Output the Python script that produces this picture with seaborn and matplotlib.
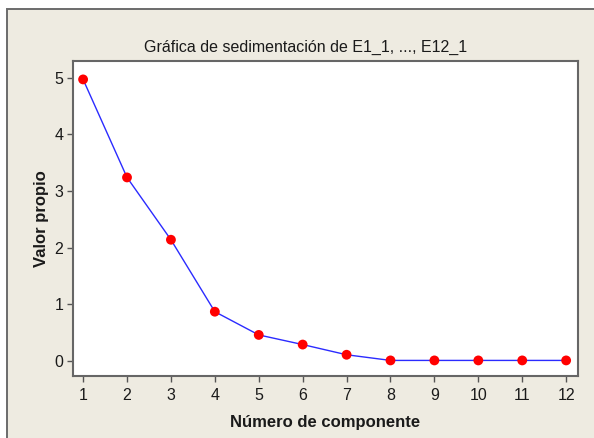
import numpy as np
import pandas as pd
import matplotlib
matplotlib.use("Agg")
import matplotlib.pyplot as plt
from matplotlib.patches import Rectangle
import seaborn as sns

# datos del gráfico de sedimentación (valores propios)
componentes = [1, 2, 3, 4, 5, 6, 7, 8, 9, 10, 11, 12]
valores_propios = [4.97, 3.24, 2.14, 0.87, 0.46, 0.29, 0.11, 0.01, 0.01, 0.01, 0.01, 0.01]
y_ticks = [0, 1, 2, 3, 4, 5]

titulo = "Gráfica de sedimentación de E1_1, ..., E12_1"
etiqueta_x = "Número de componente"
etiqueta_y = "Valor propio"

df = pd.DataFrame({"componente": componentes, "valor": valores_propios})

sns.set_style("white")
plt.rcParams["font.family"] = ["Liberation Sans", "DejaVu Sans"]

fondo = "#EEEBE1"
fig = plt.figure(figsize=(5.94, 4.38), dpi=100)
fig.patch.set_facecolor("white")

# panel beige con borde gris (estilo Minitab)
panel = Rectangle((7 / 594, -0.05), 1.2, 1 - 8.5 / 438 + 0.05, transform=fig.transFigure,
                  facecolor=fondo, edgecolor="#6b6b6b", linewidth=1.4, zorder=-10)
fig.patches.append(panel)

ax = fig.add_axes([73 / 594, 1 - 376 / 438, 505 / 594, 315 / 438])
ax.set_facecolor("white")

sns.lineplot(data=df, x="componente", y="valor", ax=ax, color="#2b2bff", linewidth=1.0, zorder=2)
sns.scatterplot(data=df, x="componente", y="valor", ax=ax, color="#ff0000", s=50,
                edgecolor="none", zorder=3)

ax.set_xlim(0.77, 12.27)
ax.set_ylim(-0.265, 5.295)
ax.set_xticks(componentes)
ax.set_yticks(y_ticks)

for s in ax.spines.values():
    s.set_color("#666666")
    s.set_linewidth(1.5)

ax.tick_params(axis="both", direction="out", length=4, width=1, color="#555555",
               labelsize=11.5, labelcolor="#1a1a1a", bottom=True, left=True)
ax.tick_params(axis="x", pad=5)
ax.tick_params(axis="y", pad=3)

ax.set_xlabel(etiqueta_x, fontsize=12, fontweight="bold", color="#1a1a1a", labelpad=8)
ax.set_ylabel(etiqueta_y, fontsize=12, fontweight="bold", color="#1a1a1a", labelpad=4)

fig.text(306 / 594, 1 - 47 / 438, titulo, ha="center", va="center", fontsize=11.5, color="#1a1a1a")

fig.savefig("out.png", dpi=100, facecolor=fig.get_facecolor())
